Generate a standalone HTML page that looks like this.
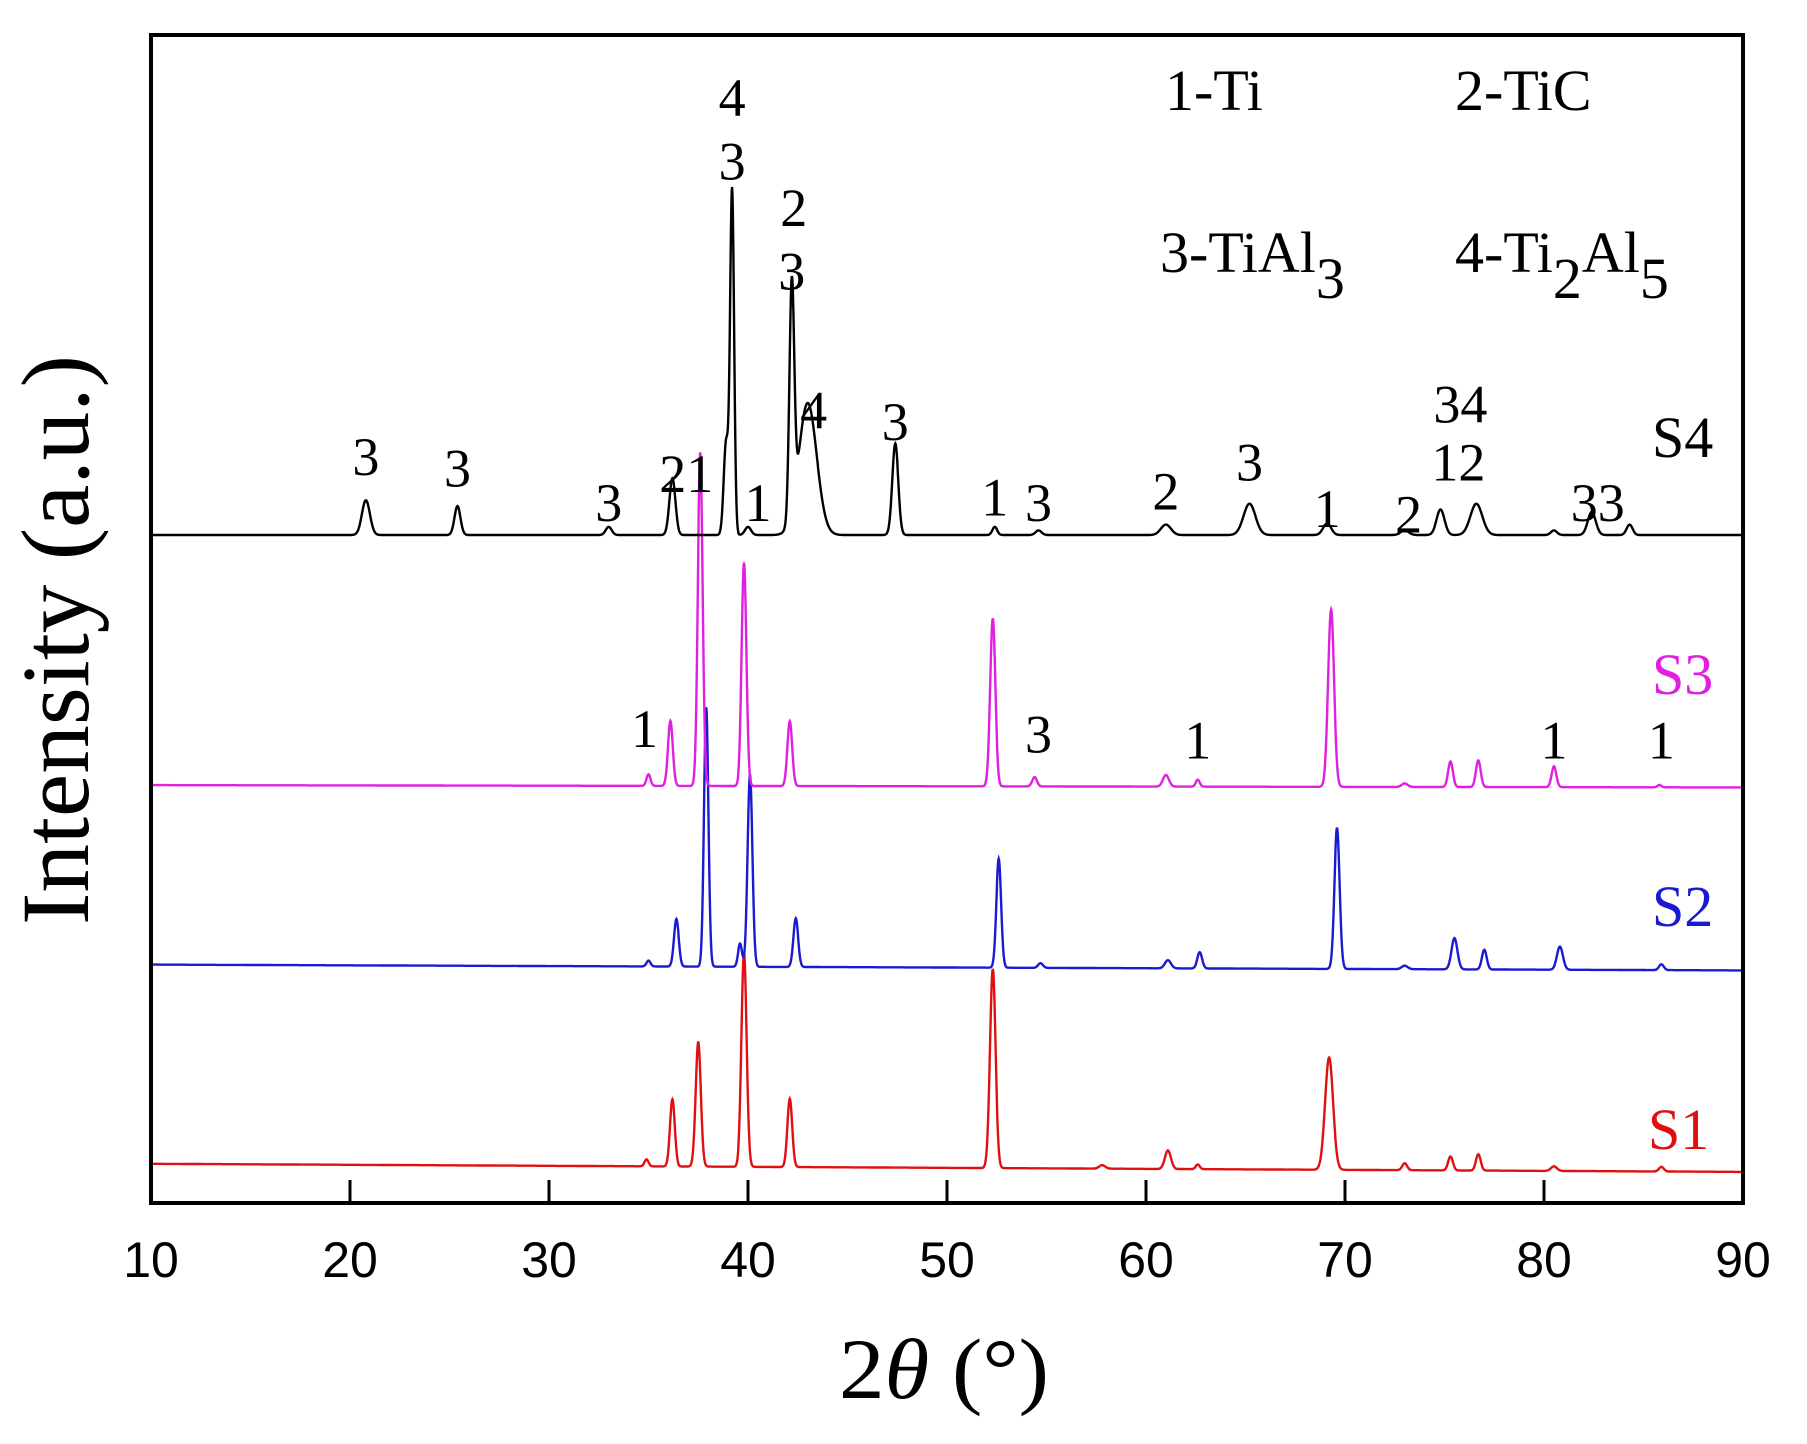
<!DOCTYPE html>
<html><head><meta charset="utf-8"><style>
html,body{margin:0;padding:0;background:#fff}
svg{display:block}
text{font-family:"Liberation Serif",serif}
</style></head><body>
<svg id="chart" width="1807" height="1444" viewBox="0 0 1807 1444" xmlns="http://www.w3.org/2000/svg">
<g id="series"></g>
<rect x="151" y="35" width="1592" height="1168" fill="none" stroke="#000" stroke-width="4"/>
<g id="ticks"></g>
<text x="944" y="1398" font-size="86" text-anchor="middle" textLength="210" lengthAdjust="spacingAndGlyphs">2<tspan font-style="italic">θ</tspan> (°)</text>
<text transform="translate(88,640) rotate(-90)" font-size="96" text-anchor="middle" textLength="570" lengthAdjust="spacingAndGlyphs">Intensity (a.u.)</text>
<g font-size="58">
<text x="1165" y="110">1-Ti</text>
<text x="1455" y="110">2-TiC</text>
<text x="1160" y="272">3-TiAl<tspan dy="26">3</tspan></text>
<text x="1455" y="272">4-Ti<tspan dy="26">2</tspan><tspan dy="-26">Al</tspan><tspan dy="26">5</tspan></text>
</g>
<g font-size="58">
<text x="1652" y="457" fill="#000">S4</text>
<text x="1652" y="694" fill="#e020e0">S3</text>
<text x="1652" y="926" fill="#1a1ad0">S2</text>
<text x="1648" y="1149" fill="#e01010">S1</text>
</g>
<g id="peaklabels" font-size="54" text-anchor="middle"></g>
</svg>
<script>
const xTicks = [10,20,30,40,50,60,70,80,90];
const s4Pos = [20.8,25.4,33.0,36.2,38.9,39.2,40.0,42.2,43.0,47.4,52.4,54.6,61.0,65.2,69.1,73.0,74.8,76.6,80.5,82.4,84.3];
const s4Hgt = [30,25,7,49,80,297,7,200,114,79,7,4,9,27,10,4,22,27,4,20,9];
const s4Wid = [0.2,0.15,0.15,0.15,0.12,0.1,0.15,0.12,0.45,0.15,0.12,0.15,0.25,0.3,0.2,0.2,0.2,0.3,0.15,0.2,0.15];
const s3Pos = [35.0,36.1,37.6,39.8,42.1,52.3,54.4,61.0,62.6,69.3,73.0,75.3,76.7,80.5,85.8];
const s3Hgt = [10,56,288,193,56,145,8,10,6,153,3,22,23,18,2];
const s3Wid = [0.1,0.12,0.12,0.12,0.12,0.13,0.12,0.15,0.1,0.15,0.15,0.12,0.12,0.12,0.1];
const s2Pos = [35.0,36.4,37.9,39.6,40.1,42.4,52.6,54.7,61.1,62.7,69.6,73.0,75.5,77.0,80.8,85.9];
const s2Hgt = [5,41,224,20,166,42,94,4,7,14,122,3,27,17,20,5];
const s2Wid = [0.1,0.12,0.11,0.1,0.12,0.12,0.12,0.12,0.15,0.12,0.13,0.15,0.15,0.12,0.15,0.12];
const s1Pos = [34.9,36.2,37.5,39.8,42.1,52.3,57.8,61.1,62.6,69.2,73.0,75.3,76.7,80.5,85.9];
const s1Hgt = [6,58,108,185,59,172,3,16,4,97,6,12,14,4,4];
const s1Wid = [0.1,0.12,0.13,0.13,0.12,0.14,0.15,0.15,0.1,0.2,0.12,0.12,0.12,0.15,0.12];
const baseL = [462,678,833,1005];
const baseR = [462,680,838,1012];
const labelText = ["3","3","3","21","4","3","1","2","3","4","3","1","3","2","3","1","2","34","12","33","1","3","1","1","1"];
const labelX = [20.8,25.4,33.0,36.9,39.2,39.2,40.5,42.3,42.2,43.3,47.4,52.4,54.6,61.0,65.2,69.1,73.2,75.8,75.7,82.7,34.8,54.6,62.6,80.5,85.9];
const labelY = [410,420,450,425,100,155,450,195,250,370,380,445,450,440,415,455,460,365,415,450,645,650,655,655,655];

const K = 1.158;
const x0 = 151, x1 = 1743;
function xs(v){ return x0 + (v-10)/80*(x1-x0); }
function ys(d){ return d*K; }
const svgNS = "http://www.w3.org/2000/svg";
const ticks = document.getElementById('ticks');
xTicks.forEach((t,i)=>{
  if(i>0 && i<xTicks.length-1){
    const l = document.createElementNS(svgNS,'line');
    
    
    l.setAttribute('x1',xs(t)); l.setAttribute('x2',xs(t));
    l.setAttribute('y1',1203); l.setAttribute('y2',1180);
    l.setAttribute('stroke','#000'); l.setAttribute('stroke-width','3');
    ticks.appendChild(l);
  }
  const tx = document.createElementNS(svgNS,'text');
  
  
  tx.setAttribute('x',xs(t)); tx.setAttribute('y',1277);
  tx.setAttribute('text-anchor','middle');
  tx.setAttribute('font-size','50');
  tx.setAttribute('style','font-family:"Liberation Sans",sans-serif');
  tx.textContent = t;
  ticks.appendChild(tx);
});
const series = [
  {pos:s1Pos,h:s1Hgt,w:s1Wid,c:'#e01010',n:'series-s1',b:3},
  {pos:s2Pos,h:s2Hgt,w:s2Wid,c:'#1a1ad0',n:'series-s2',b:2},
  {pos:s3Pos,h:s3Hgt,w:s3Wid,c:'#e020e0',n:'series-s3',b:1},
  {pos:s4Pos,h:s4Hgt,w:s4Wid,c:'#000000',n:'series-s4',b:0}
];
const g = document.getElementById('series');
series.forEach(s=>{
  let d='';
  for(let v=10; v<=90.0001; v+=0.02){
    let base = baseL[s.b] + (baseR[s.b]-baseL[s.b])*(v-10)/80;
    let h = 0;
    for(let i=0;i<s.pos.length;i++){
      const z=(v-s.pos[i])/s.w[i];
      h += s.h[i]*Math.exp(-0.5*z*z);
    }
    const y = ys(base - h);
    d += (d?'L':'M') + xs(v).toFixed(1) + ' ' + y.toFixed(1);
  }
  const p = document.createElementNS(svgNS,'path');
  
  
  p.setAttribute('d',d); p.setAttribute('fill','none');
  p.setAttribute('stroke',s.c); p.setAttribute('stroke-width','2.4');
  g.appendChild(p);
});
const pl = document.getElementById('peaklabels');
labelText.forEach((t,i)=>{
  const tx = document.createElementNS(svgNS,'text');
  
  
  tx.setAttribute('x',xs(labelX[i])); tx.setAttribute('y',ys(labelY[i]));
  tx.textContent = t;
  pl.appendChild(tx);
});
</script>
</body></html>
